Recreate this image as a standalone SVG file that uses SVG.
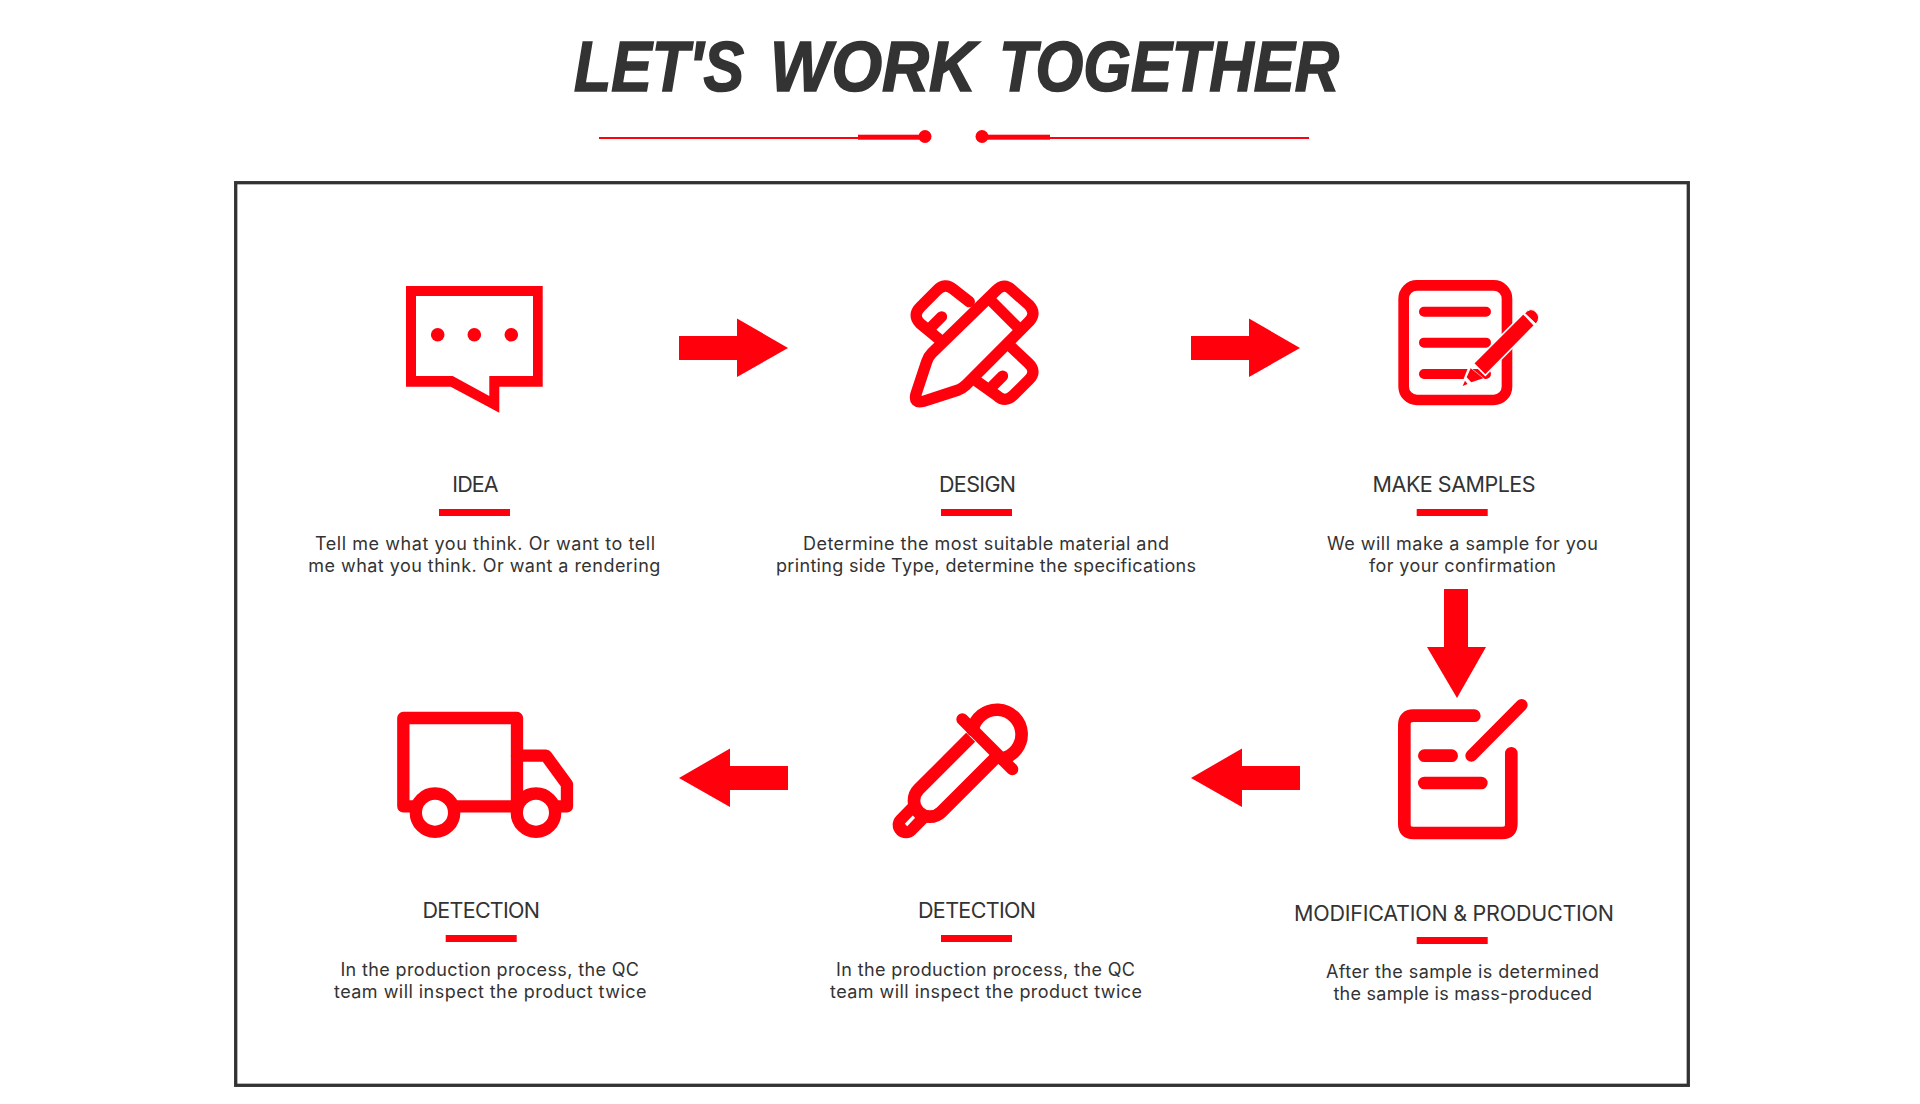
<svg xmlns="http://www.w3.org/2000/svg" width="1920" height="1104" viewBox="0 0 1920 1104">
<style>
.r{fill:#ff000c}
.s{fill:none;stroke:#ff000c;stroke-linecap:round;stroke-linejoin:round}
.h{font-family:Inter,"Noto Sans",sans-serif;font-size:21.5px;fill:#333}
.b{font-family:Inter,"Noto Sans",sans-serif;font-size:18px;fill:#333}
.t{font-family:"Liberation Sans",Arial,sans-serif;font-size:70px;font-weight:700;font-style:italic;fill:#333;stroke:#333;stroke-width:1.6px;stroke-linejoin:miter}
</style>
<rect width="1920" height="1104" fill="#fff"/>
<g id="title">
<text class="t" x="574" y="91" textLength="170" lengthAdjust="spacingAndGlyphs">LET'S</text>
<text class="t" x="770" y="91" textLength="206" lengthAdjust="spacingAndGlyphs">WORK</text>
<text class="t" x="999" y="91" textLength="340" lengthAdjust="spacingAndGlyphs">TOGETHER</text>
<rect class="r" x="599" y="137" width="324" height="2"/>
<rect class="r" x="858" y="134.7" width="65" height="5"/>
<circle class="r" cx="925" cy="136.5" r="6.5"/>
<rect class="r" x="982" y="137" width="327" height="2"/>
<rect class="r" x="982" y="134.7" width="68" height="5"/>
<circle class="r" cx="982" cy="136.5" r="6.5"/>
</g>
<rect id="frame" x="235.7" y="182.7" width="1452.6" height="902.6" fill="none" stroke="#333" stroke-width="3.3"/>
<g id="connectors">
<polygon class="r" points="679,336 737,336 737,318.5 788,348 737,377 737,360 679,360"/>
<polygon class="r" points="1191,336 1249,336 1249,318.5 1300,348 1249,377 1249,360 1191,360"/>
<polygon class="r" points="1444,589 1468,589 1468,647 1486,647 1457,698 1427,647 1444,647"/>
<polygon class="r" points="1300,766 1242,766 1242,748.5 1191,778 1242,807 1242,790 1300,790"/>
<polygon class="r" points="788,766 730,766 730,748.5 679,778 730,807 730,790 788,790"/>
</g>
<g id="node-idea">
<path class="r" fill-rule="evenodd" d="M406,286H542.7V386.7H499.3V412.7L450.7,386.7H406ZM416,296V376H452.7L489.3,396V376H533V296Z"/>
<circle class="r" cx="437.7" cy="334.7" r="6.8"/><circle class="r" cx="474.3" cy="334.7" r="6.8"/><circle class="r" cx="511.3" cy="334.7" r="6.8"/>
<text class="h" x="452.3" y="492" textLength="46.4">IDEA</text>
<rect class="r" x="439" y="509" width="71" height="7"/>
<text class="b" x="315" y="550" textLength="340">Tell me what you think. Or want to tell</text>
<text class="b" x="308.3" y="571.7" textLength="352">me what you think. Or want a rendering</text>
</g>
<g id="node-design">
<g transform="translate(890,260) scale(.3333)">
<path class="s" stroke-width="34" d="M318,92Q342,66 366,90L418,136Q440,160 418,184L228,375Q216,386 205,390L100,424Q70,432 78,402L110,305Q115,290 125,280Z"/>
<path class="s" stroke-width="33" stroke-linecap="butt" d="M306,125L381,200"/>
<path class="s" stroke-width="34" stroke-linecap="butt" d="M238,125L190,88Q165,66 140,92L92,140Q66,165 90,190L150,240"/>
<path class="s" stroke-width="33" d="M155,170L125,200"/>
<path class="s" stroke-width="34" stroke-linecap="butt" d="M365,262L416,310Q442,335 416,360L370,406Q345,430 320,406L262,365"/>
<path class="s" stroke-width="33" d="M338,348L308,378"/>
</g>
<text class="h" x="939" y="492" textLength="77">DESIGN</text>
<rect class="r" x="941" y="509" width="71" height="7"/>
<text class="b" x="803" y="550" textLength="366">Determine the most suitable material and</text>
<text class="b" x="776" y="571.7" textLength="420">printing side Type, determine the specifications</text>
</g>
<g id="node-samples">
<g transform="translate(1380,260) scale(.3333)">
<rect x="71" y="76" width="310" height="344" rx="40" fill="none" stroke="#ff000c" stroke-width="32"/>
<path class="s" stroke-width="30" d="M132,155H318M132,248H318M132,342H318"/>
<path d="M434,160Q452,140 468,156Q484,172 468,192Z" fill="#ff000c" stroke="#fff" stroke-width="3"/>
<polygon class="r" stroke="#fff" stroke-width="5" points="280,310 430,160 464,196 316,346"/>
<polygon fill="#fff" points="266,318 318,360 240,385"/>
<polygon class="r" points="272,325 310,355 274,367 260,352"/>
<polygon class="r" points="255,362 263,372 248,378"/>
</g>
<text class="h" x="1372.6" y="492" textLength="163">MAKE SAMPLES</text>
<rect class="r" x="1416.7" y="509" width="71" height="7"/>
<text class="b" x="1327" y="550" textLength="271">We will make a sample for you</text>
<text class="b" x="1369" y="571.7" textLength="187">for your confirmation</text>
</g>
<g id="node-modification">
<g transform="translate(1380,690) scale(.3333)">
<path class="s" stroke-width="38" d="M283,77H100Q73,77 73,104V402Q73,429 100,429H367Q394,429 394,402V190"/>
<path class="s" stroke-width="38" d="M133,197H215M133,279H304"/>
<path class="s" stroke-width="36" d="M274,197L425,45"/>
</g>
<text class="h" x="1294" y="920.5" textLength="320">MODIFICATION &amp; PRODUCTION</text>
<rect class="r" x="1416.7" y="937" width="71" height="7"/>
<text class="b" x="1326" y="978" textLength="273">After the sample is determined</text>
<text class="b" x="1333.5" y="999.7" textLength="258.5">the sample is mass-produced</text>
</g>
<g id="node-detection-2">
<g transform="translate(880,690) scale(.3333)">
<path class="s" stroke-width="80" d="M78,405L130,352"/>
<path d="M78,405L102,380" fill="none" stroke="#fff" stroke-width="10"/>
<path fill="#fff" stroke="#ff000c" stroke-width="38" stroke-linejoin="round" d="M272,142L116,298A48,48 0 0 0 184,366L346,204"/>
<path class="s" stroke-width="38" d="M278,120A74,74 0 1 1 364,206"/>
<path class="s" stroke-width="36" d="M247,88L397,238"/>
</g>
<text class="h" x="918" y="918" textLength="118">DETECTION</text>
<rect class="r" x="941" y="935" width="71" height="7"/>
<text class="b" x="836" y="976" textLength="299">In the production process, the QC</text>
<text class="b" x="830" y="997.7" textLength="312">team will inspect the product twice</text>
</g>
<g id="node-detection-1">
<g transform="translate(385,695) scale(.3333)">
<path class="s" stroke-width="37" d="M55,69H396V334H55Z"/>
<path class="s" stroke-width="37" d="M396,182H483L546,268V334H510"/>
<circle cx="150" cy="353" r="57.5" fill="#fff" stroke="#ff000c" stroke-width="37"/>
<circle cx="453" cy="353" r="57.5" fill="#fff" stroke="#ff000c" stroke-width="37"/>
</g>
<text class="h" x="422.5" y="918" textLength="117.5">DETECTION</text>
<rect class="r" x="445.7" y="935" width="71" height="7"/>
<text class="b" x="340.4" y="976" textLength="298.6">In the production process, the QC</text>
<text class="b" x="334" y="997.7" textLength="312.5">team will inspect the product twice</text>
</g>
</svg>
